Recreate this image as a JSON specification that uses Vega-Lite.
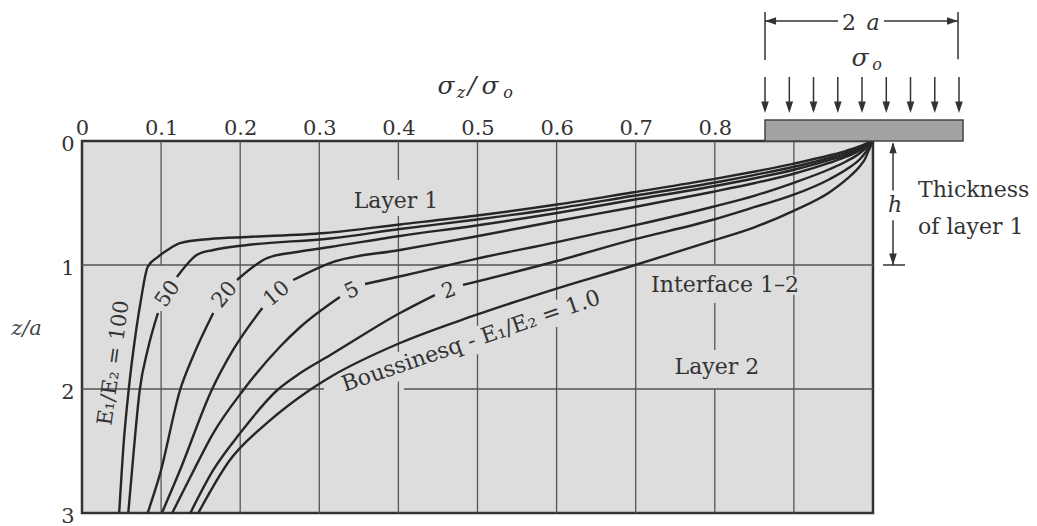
{
  "$schema": "https://vega.github.io/schema/vega-lite/v6.json",
  "width": 791,
  "height": 372,
  "autosize": {"type": "none"},
  "padding": {"left": 82, "top": 141, "right": 164, "bottom": 13},
  "background": "#ffffff",
  "config": {
    "view": {"fill": "#dddddd", "stroke": "#333333", "strokeWidth": 2.5},
    "font": "DejaVu Serif"
  },
  "datasets": {
    "curves": [
      {"s": "100", "x": 1, "z": 0}, {"s": "100", "x": 0.9937, "z": 0.013}, {"s": "100", "x": 0.9899, "z": 0.025},
      {"s": "100", "x": 0.9836, "z": 0.042}, {"s": "100", "x": 0.9671, "z": 0.077}, {"s": "100", "x": 0.9456, "z": 0.115},
      {"s": "100", "x": 0.8989, "z": 0.184}, {"s": "100", "x": 0.8508, "z": 0.246}, {"s": "100", "x": 0.7965, "z": 0.31},
      {"s": "100", "x": 0.6953, "z": 0.415}, {"s": "100", "x": 0.6005, "z": 0.512}, {"s": "100", "x": 0.4943, "z": 0.605},
      {"s": "100", "x": 0.402, "z": 0.673}, {"s": "100", "x": 0.3072, "z": 0.742}, {"s": "100", "x": 0.209, "z": 0.774},
      {"s": "100", "x": 0.162, "z": 0.79}, {"s": "100", "x": 0.124, "z": 0.823}, {"s": "100", "x": 0.108, "z": 0.879},
      {"s": "100", "x": 0.096, "z": 0.935}, {"s": "100", "x": 0.083, "z": 1.016}, {"s": "100", "x": 0.0745, "z": 1.282},
      {"s": "100", "x": 0.0685, "z": 1.524}, {"s": "100", "x": 0.059, "z": 2.008}, {"s": "100", "x": 0.053, "z": 2.411},
      {"s": "100", "x": 0.047, "z": 3},

      {"s": "50a", "x": 1, "z": 0}, {"s": "50a", "x": 0.9937, "z": 0.018}, {"s": "50a", "x": 0.9899, "z": 0.033},
      {"s": "50a", "x": 0.9836, "z": 0.053}, {"s": "50a", "x": 0.9671, "z": 0.093}, {"s": "50a", "x": 0.9456, "z": 0.135},
      {"s": "50a", "x": 0.8989, "z": 0.21}, {"s": "50a", "x": 0.8508, "z": 0.273}, {"s": "50a", "x": 0.7965, "z": 0.339},
      {"s": "50a", "x": 0.6953, "z": 0.444}, {"s": "50a", "x": 0.6005, "z": 0.544}, {"s": "50a", "x": 0.4943, "z": 0.637},
      {"s": "50a", "x": 0.402, "z": 0.71}, {"s": "50a", "x": 0.3135, "z": 0.786}, {"s": "50a", "x": 0.209, "z": 0.839},
      {"s": "50a", "x": 0.166, "z": 0.879}, {"s": "50a", "x": 0.145, "z": 0.919}, {"s": "50a", "x": 0.132, "z": 1.0},
      {"s": "50a", "x": 0.12, "z": 1.097},
      {"s": "50b", "x": 0.096, "z": 1.387}, {"s": "50b", "x": 0.083, "z": 1.685}, {"s": "50b", "x": 0.073, "z": 2.008},
      {"s": "50b", "x": 0.0655, "z": 2.492}, {"s": "50b", "x": 0.0585, "z": 3},

      {"s": "20a", "x": 1, "z": 0}, {"s": "20a", "x": 0.9937, "z": 0.023}, {"s": "20a", "x": 0.9899, "z": 0.042},
      {"s": "20a", "x": 0.9836, "z": 0.065}, {"s": "20a", "x": 0.9671, "z": 0.109}, {"s": "20a", "x": 0.9456, "z": 0.153},
      {"s": "20a", "x": 0.8989, "z": 0.234}, {"s": "20a", "x": 0.8508, "z": 0.3}, {"s": "20a", "x": 0.7965, "z": 0.367},
      {"s": "20a", "x": 0.6953, "z": 0.476}, {"s": "20a", "x": 0.6005, "z": 0.581}, {"s": "20a", "x": 0.4943, "z": 0.685},
      {"s": "20a", "x": 0.402, "z": 0.766}, {"s": "20a", "x": 0.3135, "z": 0.855}, {"s": "20a", "x": 0.272, "z": 0.895},
      {"s": "20a", "x": 0.234, "z": 0.944}, {"s": "20a", "x": 0.216, "z": 1.016}, {"s": "20a", "x": 0.196, "z": 1.121},
      {"s": "20b", "x": 0.166, "z": 1.387}, {"s": "20b", "x": 0.14, "z": 1.742}, {"s": "20b", "x": 0.124, "z": 2.008},
      {"s": "20b", "x": 0.099, "z": 2.677}, {"s": "20b", "x": 0.083, "z": 3},

      {"s": "10a", "x": 1, "z": 0}, {"s": "10a", "x": 0.9937, "z": 0.027}, {"s": "10a", "x": 0.9899, "z": 0.048},
      {"s": "10a", "x": 0.9836, "z": 0.075}, {"s": "10a", "x": 0.9671, "z": 0.125}, {"s": "10a", "x": 0.9456, "z": 0.175},
      {"s": "10a", "x": 0.8989, "z": 0.266}, {"s": "10a", "x": 0.8508, "z": 0.339}, {"s": "10a", "x": 0.7965, "z": 0.411},
      {"s": "10a", "x": 0.6953, "z": 0.536}, {"s": "10a", "x": 0.6005, "z": 0.645}, {"s": "10a", "x": 0.4943, "z": 0.774},
      {"s": "10a", "x": 0.402, "z": 0.879}, {"s": "10a", "x": 0.3135, "z": 0.984}, {"s": "10a", "x": 0.267, "z": 1.121},
      {"s": "10b", "x": 0.228, "z": 1.347}, {"s": "10b", "x": 0.191, "z": 1.685}, {"s": "10b", "x": 0.164, "z": 2.008},
      {"s": "10b", "x": 0.124, "z": 2.653}, {"s": "10b", "x": 0.101, "z": 3},

      {"s": "5a", "x": 1, "z": 0}, {"s": "5a", "x": 0.9937, "z": 0.035}, {"s": "5a", "x": 0.9899, "z": 0.062},
      {"s": "5a", "x": 0.9836, "z": 0.097}, {"s": "5a", "x": 0.9671, "z": 0.161}, {"s": "5a", "x": 0.9456, "z": 0.226},
      {"s": "5a", "x": 0.8989, "z": 0.339}, {"s": "5a", "x": 0.8508, "z": 0.44}, {"s": "5a", "x": 0.7965, "z": 0.532},
      {"s": "5a", "x": 0.6953, "z": 0.685}, {"s": "5a", "x": 0.6005, "z": 0.815}, {"s": "5a", "x": 0.4968, "z": 0.952},
      {"s": "5a", "x": 0.3982, "z": 1.097}, {"s": "5a", "x": 0.3578, "z": 1.153},
      {"s": "5b", "x": 0.326, "z": 1.258}, {"s": "5b", "x": 0.276, "z": 1.5}, {"s": "5b", "x": 0.25, "z": 1.661},
      {"s": "5b", "x": 0.204, "z": 2.008}, {"s": "5b", "x": 0.166, "z": 2.355}, {"s": "5b", "x": 0.137, "z": 2.71},
      {"s": "5b", "x": 0.114, "z": 3},

      {"s": "2a", "x": 1, "z": 0}, {"s": "2a", "x": 0.9937, "z": 0.06}, {"s": "2a", "x": 0.9899, "z": 0.097},
      {"s": "2a", "x": 0.9836, "z": 0.145}, {"s": "2a", "x": 0.9671, "z": 0.226}, {"s": "2a", "x": 0.9456, "z": 0.306},
      {"s": "2a", "x": 0.8989, "z": 0.435}, {"s": "2a", "x": 0.8508, "z": 0.532}, {"s": "2a", "x": 0.7965, "z": 0.637},
      {"s": "2a", "x": 0.6953, "z": 0.798}, {"s": "2a", "x": 0.6005, "z": 0.968}, {"s": "2a", "x": 0.4817, "z": 1.161},
      {"s": "2b", "x": 0.446, "z": 1.242}, {"s": "2b", "x": 0.402, "z": 1.387}, {"s": "2b", "x": 0.314, "z": 1.726},
      {"s": "2b", "x": 0.276, "z": 1.871}, {"s": "2b", "x": 0.247, "z": 2.008}, {"s": "2b", "x": 0.2, "z": 2.355},
      {"s": "2b", "x": 0.166, "z": 2.653}, {"s": "2b", "x": 0.137, "z": 3},

      {"s": "1", "x": 1, "z": 0}, {"s": "1", "x": 0.9937, "z": 0.089}, {"s": "1", "x": 0.9899, "z": 0.145},
      {"s": "1", "x": 0.9836, "z": 0.202}, {"s": "1", "x": 0.9671, "z": 0.306}, {"s": "1", "x": 0.9456, "z": 0.411},
      {"s": "1", "x": 0.8989, "z": 0.565}, {"s": "1", "x": 0.8508, "z": 0.694}, {"s": "1", "x": 0.7965, "z": 0.806},
      {"s": "1", "x": 0.6953, "z": 1.008}, {"s": "1", "x": 0.598, "z": 1.194}, {"s": "1", "x": 0.4943, "z": 1.411},
      {"s": "1", "x": 0.402, "z": 1.629}, {"s": "1", "x": 0.314, "z": 1.903}, {"s": "1", "x": 0.288, "z": 2.008},
      {"s": "1", "x": 0.234, "z": 2.274}, {"s": "1", "x": 0.187, "z": 2.573}, {"s": "1", "x": 0.147, "z": 3}
    ],
    "grid": [
      {"x": 0.1, "x2": 0.1, "z": 0, "z2": 1}, {"x": 0.1, "x2": 0.1, "z": 1.37, "z2": 3},
      {"x": 0.2, "x2": 0.2, "z": 0, "z2": 3},
      {"x": 0.3, "x2": 0.3, "z": 0, "z2": 3},
      {"x": 0.4, "x2": 0.4, "z": 0, "z2": 0.315}, {"x": 0.4, "x2": 0.4, "z": 0.605, "z2": 1.7}, {"x": 0.4, "x2": 0.4, "z": 1.94, "z2": 3},
      {"x": 0.5, "x2": 0.5, "z": 0, "z2": 1.49}, {"x": 0.5, "x2": 0.5, "z": 1.72, "z2": 3},
      {"x": 0.6, "x2": 0.6, "z": 0, "z2": 1.28}, {"x": 0.6, "x2": 0.6, "z": 1.5, "z2": 3},
      {"x": 0.7, "x2": 0.7, "z": 0, "z2": 3},
      {"x": 0.8, "x2": 0.8, "z": 0, "z2": 1}, {"x": 0.8, "x2": 0.8, "z": 1.306, "z2": 1.685}, {"x": 0.8, "x2": 0.8, "z": 2, "z2": 3},
      {"x": 0.9, "x2": 0.9, "z": 0, "z2": 1.08}, {"x": 0.9, "x2": 0.9, "z": 1.24, "z2": 3},
      {"x": 0, "x2": 1, "z": 1, "z2": 1},
      {"x": 0, "x2": 0.306, "z": 2, "z2": 2}, {"x": 0.407, "x2": 1, "z": 2, "z2": 2}
    ],
    "dims": [
      {"x": 0.8635, "x2": 0.9558, "z": -0.968, "z2": -0.968},
      {"x": 1.0139, "x2": 1.1075, "z": -0.968, "z2": -0.968},
      {"x": 0.8635, "x2": 0.8635, "z": -1.04, "z2": -0.653},
      {"x": 1.1075, "x2": 1.1075, "z": -1.04, "z2": -0.66},
      {"x": 1.0253, "x2": 1.0253, "z": 0.02, "z2": 0.4},
      {"x": 1.0253, "x2": 1.0253, "z": 0.64, "z2": 1.0},
      {"x": 1.0127, "x2": 1.0405, "z": 1.0, "z2": 1.0}
    ],
    "loadShafts": [
      {"x": 0.8635, "z": -0.516, "z2": -0.25}, {"x": 0.8942, "z": -0.516, "z2": -0.25},
      {"x": 0.9248, "z": -0.516, "z2": -0.25}, {"x": 0.9555, "z": -0.516, "z2": -0.25},
      {"x": 0.9861, "z": -0.516, "z2": -0.25}, {"x": 1.0168, "z": -0.516, "z2": -0.25},
      {"x": 1.0474, "z": -0.516, "z2": -0.25}, {"x": 1.0781, "z": -0.516, "z2": -0.25},
      {"x": 1.1087, "z": -0.516, "z2": -0.25}
    ],
    "downTips": [
      {"x": 0.8635, "z": -0.226}, {"x": 0.8942, "z": -0.226}, {"x": 0.9248, "z": -0.226},
      {"x": 0.9555, "z": -0.226}, {"x": 0.9861, "z": -0.226}, {"x": 1.0168, "z": -0.226},
      {"x": 1.0474, "z": -0.226}, {"x": 1.0781, "z": -0.226}, {"x": 1.1087, "z": -0.226},
      {"x": 1.0253, "z": 1.0}
    ]
  },
  "encoding": {
    "x": {
      "field": "x", "type": "quantitative",
      "scale": {"domain": [0, 1], "nice": false, "zero": false},
      "axis": {
        "orient": "top", "values": [0, 0.1, 0.2, 0.3, 0.4, 0.5, 0.6, 0.7, 0.8],
        "format": ".1~f", "grid": false, "domain": false, "ticks": false,
        "labelFlush": false, "labelOverlap": false, "labelPadding": 3,
        "labelFont": "DejaVu Serif", "labelFontSize": 21, "labelColor": "#333333",
        "title": null
      }
    },
    "y": {
      "field": "z", "type": "quantitative",
      "scale": {"domain": [0, 3], "nice": false, "zero": false, "reverse": true},
      "axis": {
        "values": [0, 1, 2, 3], "format": "d", "grid": false, "domain": false, "ticks": false,
        "labelPadding": 8, "labelOffset": 3, "labelOverlap": false,
        "labelFont": "DejaVu Serif", "labelFontSize": 21, "labelColor": "#333333",
        "title": "z/a", "titleFont": "DejaVu Serif", "titleFontStyle": "italic", "titleFontWeight": "normal",
        "titleFontSize": 21, "titleColor": "#444444", "titleAngle": 0, "titleX": -56, "titleY": 187,
        "titleAlign": "center", "titleBaseline": "middle"
      }
    }
  },
  "layer": [
    {
      "data": {"name": "grid"},
      "mark": {"type": "rule", "color": "#555555", "strokeWidth": 1.3},
      "encoding": {"x2": {"field": "x2"}, "y2": {"field": "z2"}}
    },
    {
      "data": {"name": "curves"},
      "mark": {"type": "line", "color": "#262626", "strokeWidth": 2.4, "interpolate": "monotone"},
      "encoding": {"detail": {"field": "s"}}
    },
    {
      "data": {"values": [{"x": 0.8635, "x2": 1.1138, "z": -0.17, "z2": 0}]},
      "mark": {"type": "rect", "fill": "#a3a3a3", "stroke": "#444444", "strokeWidth": 1.5},
      "encoding": {"x2": {"field": "x2"}, "y2": {"field": "z2"}}
    },
    {
      "data": {"name": "loadShafts"},
      "mark": {"type": "rule", "color": "#333333", "strokeWidth": 1.5},
      "encoding": {"y2": {"field": "z2"}}
    },
    {
      "data": {"name": "dims"},
      "mark": {"type": "rule", "color": "#333333", "strokeWidth": 1.5},
      "encoding": {"x2": {"field": "x2"}, "y2": {"field": "z2"}}
    },
    {
      "data": {"name": "downTips"},
      "mark": {"type": "point", "filled": true, "color": "#333333", "opacity": 1, "size": 360, "strokeWidth": 0,
               "shape": "M-0.4,-1.2L0,0L0.4,-1.2Z"}
    },
    {
      "data": {"values": [{"x": 1.0253, "z": 0.01}]},
      "mark": {"type": "point", "filled": true, "color": "#333333", "opacity": 1, "size": 340, "strokeWidth": 0,
               "shape": "M-0.4,1.2L0,0L0.4,1.2Z"}
    },
    {
      "data": {"values": [{"x": 0.8635, "z": -0.968}]},
      "mark": {"type": "point", "filled": true, "color": "#333333", "opacity": 1, "size": 340, "strokeWidth": 0,
               "shape": "M1.2,-0.4L0,0L1.2,0.4Z"}
    },
    {
      "data": {"values": [{"x": 1.1075, "z": -0.968}]},
      "mark": {"type": "point", "filled": true, "color": "#333333", "opacity": 1, "size": 340, "strokeWidth": 0,
               "shape": "M-1.2,-0.4L0,0L-1.2,0.4Z"}
    },
    {
      "data": {"values": [
        {"x": 0.397, "z": 0.484, "t": "Layer 1"},
        {"x": 0.8129, "z": 1.161, "t": "Interface 1–2"},
        {"x": 0.8027, "z": 1.823, "t": "Layer 2"}
      ]},
      "mark": {"type": "text", "font": "DejaVu Serif", "fontSize": 22, "color": "#333333", "align": "center", "baseline": "middle"},
      "encoding": {"text": {"field": "t"}}
    },
    {
      "data": {"values": [
        {"x": 1.0569, "z": 0.395, "t": "Thickness"},
        {"x": 1.0569, "z": 0.694, "t": "of layer 1"}
      ]},
      "mark": {"type": "text", "font": "DejaVu Serif", "fontSize": 22, "color": "#333333", "align": "left", "baseline": "middle"},
      "encoding": {"text": {"field": "t"}}
    },
    {
      "data": {"values": [{"x": 1.0278, "z": 0.516, "t": "h"}]},
      "mark": {"type": "text", "font": "DejaVu Serif", "fontStyle": "italic", "fontSize": 22, "color": "#333333", "align": "center", "baseline": "middle"},
      "encoding": {"text": {"field": "t"}}
    },
    {
      "data": {"values": [{"x": 0.9697, "z": -0.895, "t": "2"}]},
      "mark": {"type": "text", "font": "DejaVu Serif", "fontSize": 22, "color": "#333333", "align": "center", "baseline": "alphabetic"},
      "encoding": {"text": {"field": "t"}}
    },
    {
      "data": {"values": [{"x": 1.0, "z": -0.895, "t": "a"}]},
      "mark": {"type": "text", "font": "DejaVu Serif", "fontStyle": "italic", "fontSize": 22, "color": "#333333", "align": "center", "baseline": "alphabetic"},
      "encoding": {"text": {"field": "t"}}
    },
    {
      "data": {"values": [
        {"x": 0.4602, "z": -0.444, "t": "σ"},
        {"x": 0.493, "z": -0.444, "t": "/"},
        {"x": 0.5158, "z": -0.444, "t": "σ"},
        {"x": 0.9836, "z": -0.673, "t": "σ"}
      ]},
      "mark": {"type": "text", "font": "DejaVu Serif", "fontStyle": "italic", "fontSize": 25, "color": "#333333", "align": "center", "baseline": "middle"},
      "encoding": {"text": {"field": "t"}}
    },
    {
      "data": {"values": [
        {"x": 0.4791, "z": -0.387, "t": "z"},
        {"x": 0.5386, "z": -0.387, "t": "o"},
        {"x": 1.0051, "z": -0.613, "t": "o"}
      ]},
      "mark": {"type": "text", "font": "DejaVu Serif", "fontStyle": "italic", "fontSize": 16, "color": "#333333", "align": "center", "baseline": "middle"},
      "encoding": {"text": {"field": "t"}}
    },
    {
      "data": {"values": [{"x": 0.0405, "z": 1.79, "t": "E₁/E₂ = 100"}]},
      "mark": {"type": "text", "font": "DejaVu Serif", "fontSize": 21, "color": "#333333", "align": "center", "baseline": "middle", "angle": -82},
      "encoding": {"text": {"field": "t"}}
    },
    {
      "data": {"values": [{"x": 0.1087, "z": 1.234, "t": "50"}]},
      "mark": {"type": "text", "font": "DejaVu Serif", "fontSize": 21, "color": "#333333", "align": "center", "baseline": "middle", "angle": -55},
      "encoding": {"text": {"field": "t"}}
    },
    {
      "data": {"values": [{"x": 0.1808, "z": 1.242, "t": "20"}]},
      "mark": {"type": "text", "font": "DejaVu Serif", "fontSize": 21, "color": "#333333", "align": "center", "baseline": "middle", "angle": -50},
      "encoding": {"text": {"field": "t"}}
    },
    {
      "data": {"values": [{"x": 0.2465, "z": 1.234, "t": "10"}]},
      "mark": {"type": "text", "font": "DejaVu Serif", "fontSize": 21, "color": "#333333", "align": "center", "baseline": "middle", "angle": -40},
      "encoding": {"text": {"field": "t"}}
    },
    {
      "data": {"values": [{"x": 0.3413, "z": 1.21, "t": "5"}]},
      "mark": {"type": "text", "font": "DejaVu Serif", "fontSize": 21, "color": "#333333", "align": "center", "baseline": "middle", "angle": -25},
      "encoding": {"text": {"field": "t"}}
    },
    {
      "data": {"values": [{"x": 0.464, "z": 1.21, "t": "2"}]},
      "mark": {"type": "text", "font": "DejaVu Serif", "fontSize": 21, "color": "#333333", "align": "center", "baseline": "middle", "angle": -20},
      "encoding": {"text": {"field": "t"}}
    },
    {
      "data": {"values": [{"x": 0.4918, "z": 1.613, "t": "Boussinesq - E₁/E₂ = 1.0"}]},
      "mark": {"type": "text", "font": "DejaVu Serif", "fontSize": 22, "color": "#333333", "align": "center", "baseline": "middle", "angle": -19},
      "encoding": {"text": {"field": "t"}}
    }
  ]
}
